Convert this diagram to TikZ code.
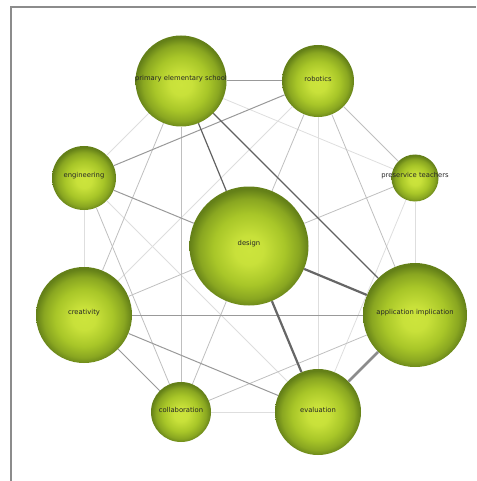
\documentclass[tikz,border=0pt]{standalone}
\usepackage{fontspec}
\setsansfont{DejaVu Sans}

\definecolor{ballhi}{RGB}{204,228,60}
\definecolor{ballmid}{RGB}{168,198,40}
\definecolor{balledge}{RGB}{100,128,24}
\pgfdeclareradialshading{ballshade}{\pgfpoint{0bp}{-2bp}}{color(0bp)=(ballhi); color(6bp)=(ballhi!90!ballmid); color(15bp)=(ballmid); color(21bp)=(ballmid!55!balledge); color(25bp)=(balledge); color(50bp)=(balledge)}

\begin{document}
\begin{tikzpicture}[x=1pt, y=-1pt,
        bulb/.style={circle, shade, shading=ballshade, inner sep=0pt, minimum size=#1},
        lbl/.style={font=\sffamily\fontsize{6.8}{8}\selectfont, text=black!85, yshift=2pt},
        ln0/.style={black!13, line width=0.8pt},
        ln1/.style={black!25, line width=0.8pt},
        ln2/.style={black!40, line width=1pt},
        ln3/.style={black!62, line width=1.2pt},
        ln4/.style={black!60, line width=2.2pt}]
        \useasboundingbox (0,0) rectangle (476,481);
        \draw[black!45, line width=1.4pt] (11,481) -- (11,7) -- (476,7);

        \node[bulb=91pt, label={[lbl]center:primary elementary school}] (prim) at (181,81) {};
        \node[bulb=72pt, label={[lbl]center:robotics}] (robo) at (318,81) {};
        \node[bulb=64pt, label={[lbl]center:engineering}] (engi) at (84,178) {};
        \node[bulb=47pt, label={[lbl]center:preservice teachers}] (pres) at (415,178) {};
        \node[bulb=119pt, label={[lbl]center:design}] (desi) at (249,246) {};
        \node[bulb=96pt, label={[lbl]center:creativity}] (crea) at (84,315) {};
        \node[bulb=104pt, label={[lbl]center:application implication}] (appl) at (415,315) {};
        \node[bulb=60pt, label={[lbl]center:collaboration}] (coll) at (181,412) {};
        \node[bulb=86pt, label={[lbl]center:evaluation}] (eval) at (318,412) {};

        % faint links
        \draw[ln0] (prim) -- (pres);
        \draw[ln0] (prim) -- (engi);
        \draw[ln0] (robo) -- (eval);
        \draw[ln0] (robo) -- (crea);
        \draw[ln0] (engi) -- (crea);
        \draw[ln0] (engi) -- (eval);
        \draw[ln0] (pres) -- (appl);
        \draw[ln0] (pres) -- (eval);
        \draw[ln0] (coll) -- (eval);
        % light links
        \draw[ln1] (prim) -- (crea);
        \draw[ln1] (prim) -- (coll);
        \draw[ln1] (robo) -- (desi);
        \draw[ln1] (robo) -- (pres);
        \draw[ln1] (robo) -- (appl);
        \draw[ln1] (engi) -- (coll);
        \draw[ln1] (pres) -- (desi);
        \draw[ln1] (desi) -- (crea);
        \draw[ln1] (desi) -- (coll);
        \draw[ln1] (coll) -- (appl);
        % medium links
        \draw[ln2] (prim) -- (robo);
        \draw[ln2] (robo) -- (engi);
        \draw[ln2] (engi) -- (desi);
        \draw[ln2] (crea) -- (appl);
        \draw[ln2] (crea) -- (eval);
        \draw[ln2] (crea) -- (coll);
        % strong links
        \draw[ln3] (prim) -- (desi);
        \draw[ln3] (prim) -- (appl);
        \draw[ln4] (desi) -- (eval);
        \draw[ln4] (desi) -- (appl);
        \draw[ln4, black!45, line width=2.6pt] (eval) -- (appl);
    \end{tikzpicture}
\end{document}
